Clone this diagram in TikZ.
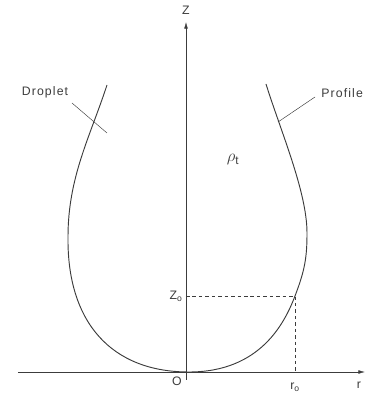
\documentclass[tikz,border=0pt]{standalone}
\usepackage{fontspec}
\setmainfont{Liberation Sans}
\usepackage{tikz}
\usetikzlibrary{arrows.meta, positioning}
\definecolor{inkgrey}{RGB}{60,60,60}

\begin{document}
\begin{tikzpicture}[
  x=0.3cm, y=0.3cm,
  font=\fontsize{10.5}{12}\selectfont\addfontfeature{LetterSpace=9},
  axis/.style={thin, draw=inkgrey, -{Latex[length=2mm,width=1.1mm]}},
  profile/.style={thick, draw=inkgrey},
  guide/.style={thin, draw=inkgrey, dash pattern=on 3pt off 2.5pt},
  leader/.style={thin, draw=inkgrey},
  lbl/.style={text=inkgrey, inner sep=1pt}
]
\useasboundingbox (-18.6,-2.3) rectangle (18.2,37.2);

% ── Axes ──────────────────────────────────────────────────────
\coordinate (o)    at (0,0);
\coordinate (rbeg) at (-16.8,0);
\coordinate (rend) at (17.9,0);
\coordinate (zbeg) at (0,-0.8);
\coordinate (zend) at (0,35);
\draw[axis] (rbeg) -- (rend);
\draw[axis] (zbeg) -- (zend);

\node[lbl] (zlab) at (0,36.2) {Z};
\node[lbl] (rlab) at (17.3,-1.3) {r};
\node[lbl] (olab) at (-0.9,-0.9) {O};

% ── Droplet profile ───────────────────────────────────────────
\coordinate (pt) at (10.9,7.6);
\draw[profile] (-7.9,28.7)
  .. controls (-9.6,23.5) and (-11.8,19.5) .. (-11.8,13.5)
  .. controls (-11.9,5.0) and (-7.5,0) .. (0.3,0)
  .. controls (7.5,0) and (9.9,5.0) .. (pt)
  .. controls (11.9,10.2) and (12.1,11.5) .. (12.1,13.9)
  .. controls (12.1,18.0) and (9.5,24.0) .. (8.0,28.8);

% ── Contact point (r0, Z0) ────────────────────────────────────
\coordinate (zo) at (0,7.6);
\coordinate (ro) at (10.9,0);
\draw[guide] (zo) -- (pt) -- (ro);
\node[lbl, anchor=east] (zolab) at (-0.2,7.6) {Z\textsubscript{o}};
\node[lbl] (rolab) at (10.9,-1.5) {r\textsubscript{o}};

% ── Labels with leaders ───────────────────────────────────────
\node[lbl, font=\Large] (rho) at (4.7,21.2) {$\rho_{\mathrm t}$};
\node[lbl] (drop) at (-14.1,28.0) {Droplet};
\node[lbl, anchor=west] (prof) at (13.4,27.9) {Profile};
\coordinate (dropa) at (-11.4,26.9);
\coordinate (dropb) at (-7.9,23.9);
\coordinate (profa) at (12.9,27.5);
\coordinate (profb) at (9.2,25.0);
\draw[leader] (dropa) -- (dropb);
\draw[leader] (profa) -- (profb);

\end{tikzpicture}
\end{document}
